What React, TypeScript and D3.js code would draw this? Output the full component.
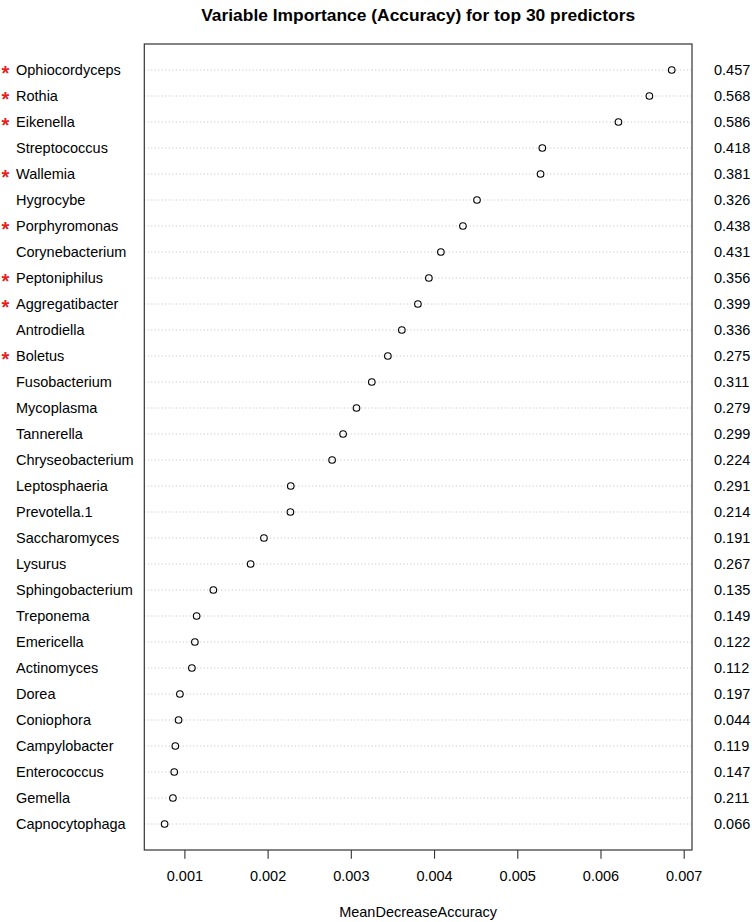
import React from "react";
import * as d3 from "d3";

const categories: string[] = [
  "Ophiocordyceps", "Rothia", "Eikenella", "Streptococcus", "Wallemia",
  "Hygrocybe", "Porphyromonas", "Corynebacterium", "Peptoniphilus", "Aggregatibacter",
  "Antrodiella", "Boletus", "Fusobacterium", "Mycoplasma", "Tannerella",
  "Chryseobacterium", "Leptosphaeria", "Prevotella.1", "Saccharomyces", "Lysurus",
  "Sphingobacterium", "Treponema", "Emericella", "Actinomyces", "Dorea",
  "Coniophora", "Campylobacter", "Enterococcus", "Gemella", "Capnocytophaga",
];

const meanDecreaseAccuracy: number[] = [
  0.00685, 0.006582, 0.00621, 0.005295, 0.005274,
  0.00451, 0.004341, 0.004076, 0.003932, 0.0038,
  0.003607, 0.003439, 0.003246, 0.003062, 0.002901,
  0.002769, 0.002272, 0.002268, 0.00195, 0.00179,
  0.001342, 0.001141, 0.00112, 0.001084, 0.00094,
  0.000924, 0.000885, 0.000872, 0.000856, 0.000756,
];

const significant: boolean[] = [
  true, true, true, false, true,
  false, true, false, true, true,
  false, true, false, false, false,
  false, false, false, false, false,
  false, false, false, false, false,
  false, false, false, false, false,
];

const rightValues: string[] = [
  "0.457", "0.568", "0.586", "0.418", "0.381",
  "0.326", "0.438", "0.431", "0.356", "0.399",
  "0.336", "0.275", "0.311", "0.279", "0.299",
  "0.224", "0.291", "0.214", "0.191", "0.267",
  "0.135", "0.149", "0.122", "0.112", "0.197",
  "0.044", "0.119", "0.147", "0.211", "0.066",
];

const xTicks: number[] = [0.001, 0.002, 0.003, 0.004, 0.005, 0.006, 0.007];

const titleText = "Variable Importance (Accuracy) for top 30 predictors";
const xLabel = "MeanDecreaseAccuracy";

const W = 752;
const H = 922;
const left = 144.3;
const right = 692;
const top = 44;
const bottom = 850;
const FONT = "'Liberation Sans', Arial, Helvetica, sans-serif";

export default function App() {
  const n = categories.length;
  const [mn, mx] = d3.extent(meanDecreaseAccuracy) as [number, number];
  const ext = (mx - mn) * 0.04;
  const x = d3.scaleLinear().domain([mn - ext, mx + ext]).range([left, right]);
  const y = d3.scaleLinear().domain([0, n + 1]).range([bottom, top]);
  const rowY = (i: number) => y(n - i);
  const cx = (left + right) / 2;

  return (
    <svg
      width={W}
      height={H}
      style={{ position: "absolute", left: 0, top: 0, background: "#fff" }}
      fontFamily={FONT}
    >
      <rect x={0} y={0} width={W} height={H} fill="#fff" />
      <text x={cx} y={21} textAnchor="middle" fontSize={17.4} fontWeight="bold" fill="#000">
        {titleText}
      </text>

      {categories.map((c, i) => (
        <g key={c}>
          <line
            x1={left}
            x2={right}
            y1={rowY(i)}
            y2={rowY(i)}
            stroke="#bebebe"
            strokeWidth={1}
            strokeDasharray="1,2.5"
          />
          <circle
            cx={x(meanDecreaseAccuracy[i])}
            cy={rowY(i)}
            r={3.3}
            fill="none"
            stroke="#000"
            strokeWidth={1.1}
          />
          <text x={16} y={rowY(i)} dy="0.36em" fontSize={14.5} fill="#000">
            {c}
          </text>
          {significant[i] && (
            <text x={1.5} y={rowY(i)} dy="0.48em" fontSize={20} fontWeight="bold" fill="#e8201c">
              *
            </text>
          )}
          <text x={714} y={rowY(i)} dy="0.36em" fontSize={14.5} fill="#000">
            {rightValues[i]}
          </text>
        </g>
      ))}

      <rect
        x={left}
        y={top}
        width={right - left}
        height={bottom - top}
        fill="none"
        stroke="#333"
        strokeWidth={1.2}
      />

      {xTicks.map((t) => (
        <g key={t}>
          <line x1={x(t)} x2={x(t)} y1={bottom} y2={bottom + 8.7} stroke="#333" strokeWidth={1.1} />
          <text x={x(t)} y={881} textAnchor="middle" fontSize={14.5} fill="#000">
            {d3.format(".3f")(t)}
          </text>
        </g>
      ))}

      <text x={cx} y={917} textAnchor="middle" fontSize={14.5} fill="#000">
        {xLabel}
      </text>
    </svg>
  );
}
